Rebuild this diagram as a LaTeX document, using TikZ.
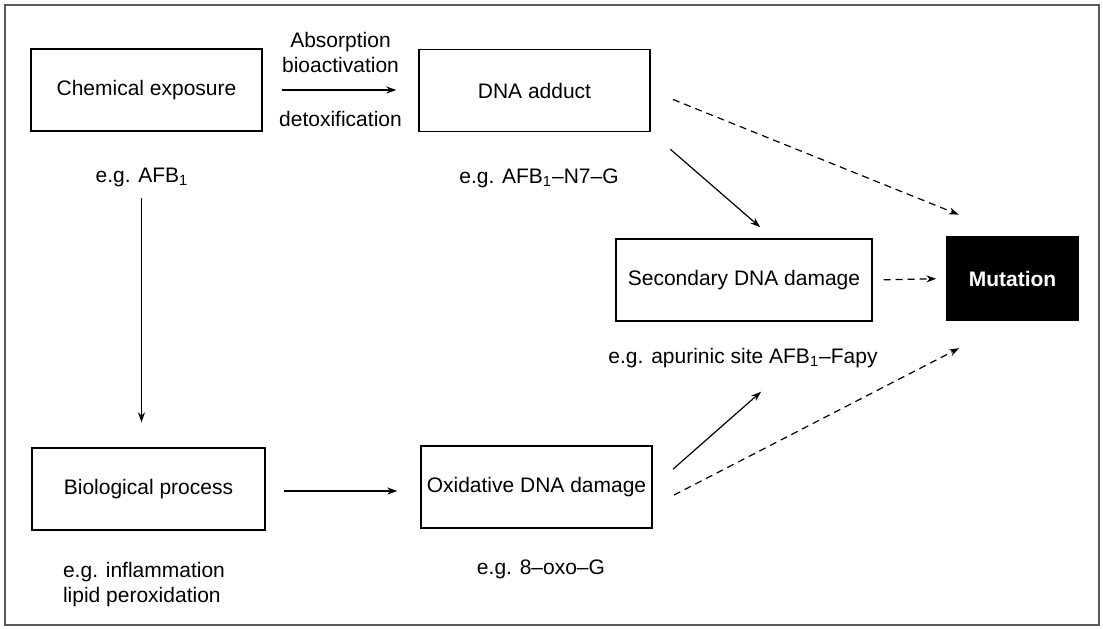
\documentclass[tikz,border=0pt]{standalone}
\usepackage{fontspec}
\setmainfont{Liberation Sans}
\usetikzlibrary{arrows.meta,positioning,calc}

\begin{document}
\begin{tikzpicture}[x=0.5pt,y=-0.5pt,
  font=\fontsize{10.5}{12.5}\selectfont,
  procbox/.style={draw,line width=0.7pt,minimum width=115.5pt,minimum height=41pt,inner sep=0pt},
  flow/.style={-{Stealth[length=5pt,width=3.5pt]},line width=0.6pt},
  maybe/.style={flow,dash pattern=on 3.5pt off 2.5pt},
  note/.style={inner sep=0pt,align=left}]
\useasboundingbox (0,0) rectangle (1103,628);
\draw [black!65,line width=0.6pt] (5,5) rectangle (1099,625);
% boxes
\node [procbox] (chem) at (146.5,90) {Chemical exposure};
\node [procbox] (adduct) at (534.5,90.5) {DNA adduct};
\node [procbox,minimum width=128pt] (second) at (744,280) {Secondary DNA damage};
\node [procbox,fill=black,text=white,font=\fontsize{10.5}{12.5}\selectfont\bfseries,minimum width=65.5pt,minimum height=41.5pt] (mut) at (1012.5,278.5) {Mutation};
\node [procbox,minimum width=116.5pt] (bio) at (148.5,489) {Biological process};
\node [procbox] (oxid) at (536.5,487) {Oxidative DNA damage};
% examples
\node [note] (chemeg) at (142,177) {e.g. AFB\textsubscript{1}};
\node [note] (adducteg) at (539,178) {e.g. AFB\textsubscript{1}–N7–G};
\node [note] (secondeg) at (743,358) {e.g. apurinic site AFB\textsubscript{1}–Fapy};
\node [note] (bioeg) at (144,585) {e.g. inflammation\\lipid peroxidation};
\node [note] (oxideg) at (541,569) {e.g. 8–oxo–G};
% arrows
\draw [flow,shorten <=9.5pt,shorten >=11pt] (chem.east) -- (chem.east -| adduct.west)
  node [midway,above=8.5pt,align=center,inner sep=0pt] (absorb) {Absorption\\bioactivation}
  node [midway,below=10.5pt,inner sep=0pt] (detox) {detoxification};
\draw [flow,shorten <=33pt,shorten >=12.5pt] ([xshift=-2.5pt]chem.south) -- ([xshift=-2.5pt]chem.south |- bio.north);
\draw [flow,shorten <=9pt,shorten >=11.5pt] ([yshift=-1pt]bio.east) -- ([yshift=-1pt]bio.east -| oxid.west);
\draw [flow,shorten <=13pt,shorten >=8.5pt] (adduct.south east) -- ([xshift=14.5pt]second.north);
\draw [maybe,shorten <=12pt,shorten >=29pt] (adduct.east) -- (mut.north);
\draw [maybe,shorten <=5.5pt,shorten >=5pt] (second.east) -- (mut.west);
\draw [flow,shorten <=13.5pt,shorten >=53pt] (oxid.east) -- ([xshift=-16pt]second.south east);
\draw [maybe,shorten <=12pt,shorten >=30pt] ([yshift=-9.5pt]oxid.east) -- (mut.south);
\end{tikzpicture}
\end{document}
